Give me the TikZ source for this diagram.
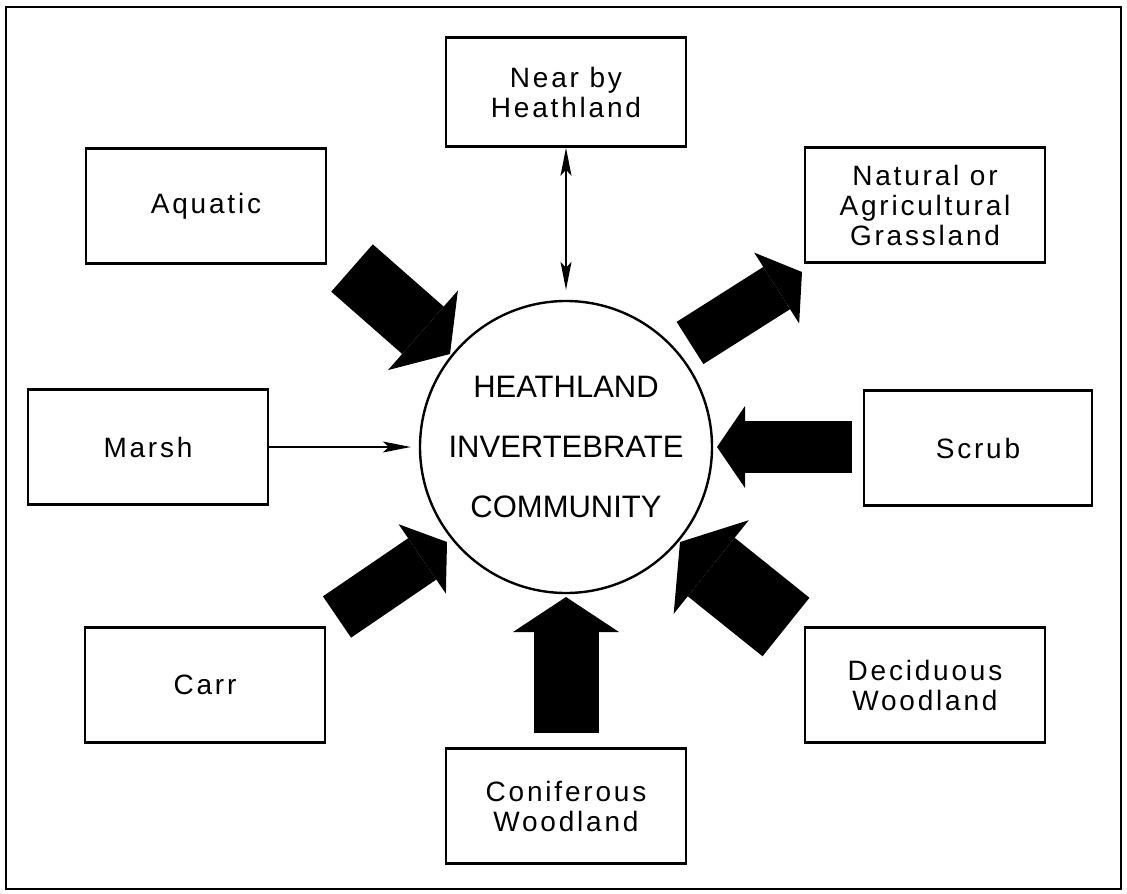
\documentclass[tikz,border=0pt]{standalone}
\usepackage{fontspec}
\setmainfont{Liberation Sans}
\newfontfamily\boxfont[LetterSpace=10]{Liberation Sans}
\usetikzlibrary{arrows.meta}

\begin{document}
\begin{tikzpicture}[x=1pt, y=-1pt,
  hbox/.style={draw, line width=2.6pt, minimum width=240pt, minimum height=115pt,
               inner sep=0pt, align=center,
               font=\boxfont\fontsize{28}{30}\selectfont},
  hub/.style={draw, circle, line width=2.4pt, minimum size=292pt, inner sep=0pt,
              align=center, font=\fontsize{31}{60}\selectfont},
  feed/.style={line width=1.3pt, -{Stealth[length=28pt, width=11pt, inset=6pt]}},
  twoway/.style={line width=1.3pt,
                 {Stealth[length=28pt, width=11pt, inset=6pt]}-{Stealth[length=28pt, width=11pt, inset=6pt]}},
  flow/.style n args={3}{line width=#1,
                         -{Triangle[width=#2, length=#3, line width=0pt]}}]
  % page and outer frame
  \fill[white] (0,0) rectangle (1127,894);
  \draw[line width=2pt] (6,7) rectangle (1121,889);
  % centre
  \node[hub] (nHub) at (566,447) {HEATHLAND\\INVERTEBRATE\\COMMUNITY};
  % surrounding habitats
  \node[hbox, minimum height=109pt] (nNear) at (566,92) {Near by\\Heathland};
  \node[hbox] (nAquatic) at (206,206) {Aquatic};
  \node[hbox] (nNatural) at (925,205) {Natural or\\Agricultural\\Grassland};
  \node[hbox] (nMarsh) at (148,447) {Marsh};
  \node[hbox, minimum width=228pt] (nScrub) at (978,448) {Scrub};
  \node[hbox] (nCarr) at (205,685) {Carr};
  \node[hbox] (nDeciduous) at (925,685) {Deciduous\\Woodland};
  \node[hbox] (nConiferous) at (566,806) {Coniferous\\Woodland};
  % thin links
  \draw[feed, shorten >=8pt] (nMarsh) -- (nHub);
  \draw[twoway, shorten >=10pt] (nNear) -- (nHub);
  % broad arrows: back end b, tip t
  \coordinate (bAquatic) at (352,268);
  \coordinate (tAquatic) at (450,354);
  \coordinate (bNatural) at (690,343);
  \coordinate (tNatural) at (802,272);
  \coordinate (bScrub) at (852,447);
  \coordinate (tScrub) at (717,447);
  \coordinate (bCarr) at (337,617);
  \coordinate (tCarr) at (447,542);
  \coordinate (bDeciduous) at (786,627);
  \coordinate (tDeciduous) at (680,542);
  \coordinate (bConiferous) at (566,733);
  \coordinate (tConiferous) at (566,597);
  \draw[flow={63pt}{106pt}{36pt}] (bAquatic) -- (tAquatic);
  \draw[flow={50pt}{84pt}{30pt}] (bNatural) -- (tNatural);
  \draw[flow={52pt}{82pt}{28pt}] (bScrub) -- (tScrub);
  \draw[flow={50pt}{84pt}{30pt}] (bCarr) -- (tCarr);
  \draw[flow={75pt}{120pt}{40pt}] (bDeciduous) -- (tDeciduous);
  \draw[flow={65pt}{106pt}{35pt}] (bConiferous) -- (tConiferous);
\end{tikzpicture}
\end{document}
